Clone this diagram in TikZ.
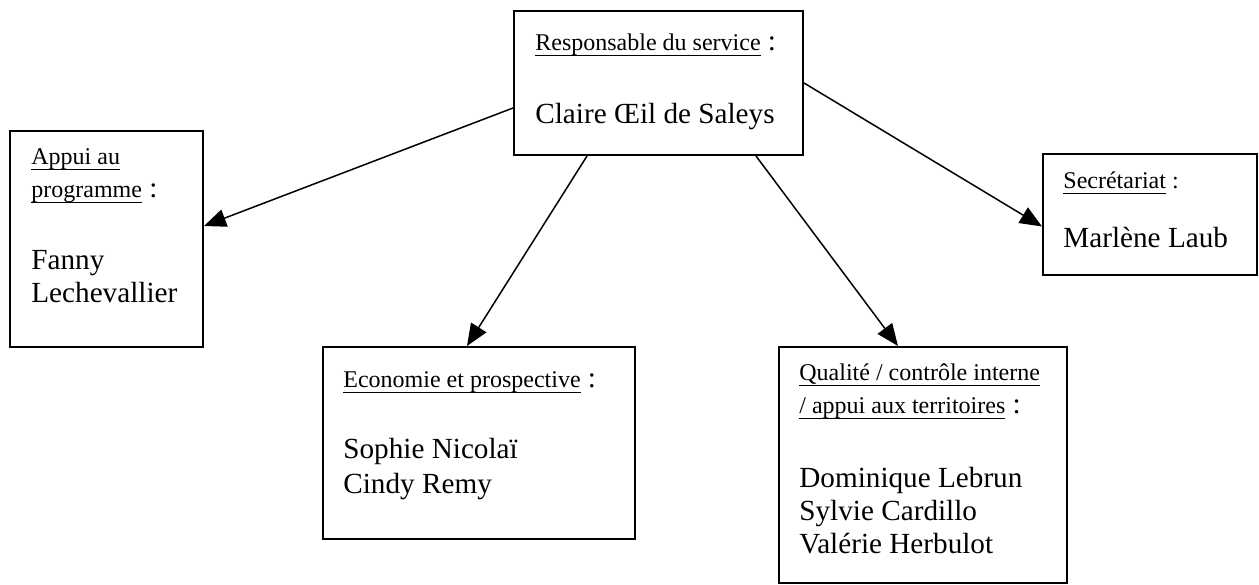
\documentclass[tikz,border=0pt]{standalone}
\usepackage{fontspec}
\setmainfont{Liberation Serif}
\usetikzlibrary{arrows.meta, fit}

% Soulignement a la Word (trait fixe sous la ligne de base)
\newcommand\souligne[1]{\setbox0\hbox{#1}\rlap{\rule[-2.8pt]{\wd0}{0.55pt}}\box0}
\newcommand\deuxpts{{\fontsize{14.6}{16.5}\selectfont\ :}}

\begin{document}
\begin{tikzpicture}[
    x=0.5pt, y=-0.5pt, % une unite = un pixel de l'original
    >={Triangle[length=11pt, width=9pt]},
    % --- Boites ---
    boite/.style={draw, line width=1pt, inner sep=0pt},
    % --- Textes (ancre = ligne de base de la derniere ligne) ---
    titre/.style={anchor=base west, inner sep=0pt, align=left, font=\fontsize{12}{16.5}\selectfont},
    nom/.style={anchor=base west, inner sep=0pt, align=left, font=\fontsize{14.6}{16.5}\selectfont},
    % --- Fleches ---
    fleche/.style={->, line width=0.75pt}
]
    \useasboundingbox (0,0) rectangle (1259,584);

    % ===========================
    % 1. BOITES
    % ===========================
    \node[boite, fit={(514,11) (803,155)}]   (chef)  {};
    \node[boite, fit={(10,131) (203,347)}]   (appui) {};
    \node[boite, fit={(1043,154) (1257,275)}] (secr)  {};
    \node[boite, fit={(323,347) (635,539)}]  (eco)   {};
    \node[boite, fit={(779,347) (1067,583)}] (qual)  {};

    % ===========================
    % 2. TEXTES
    % ===========================
    \node[titre] (chefT)  at (535,50)   {\souligne{Responsable du service}\deuxpts};
    \node[nom]   (chefN)  at (535,123)  {Claire Œil de Saleys};

    \node[titre] (appuiT) at (31,197)   {\souligne{Appui au}\\\souligne{programme}\deuxpts};
    \node[nom]   (appuiN) at (31,302)   {Fanny\\Lechevallier};

    \node[titre] (secrT)  at (1063,188) {\souligne{Secrétariat}\ :};
    \node[nom]   (secrN)  at (1063,247) {Marlène Laub};

    \node[titre] (ecoT)   at (343,387)  {\souligne{Economie et prospective}\deuxpts};
    \node[nom, font=\fontsize{14.6}{17.5}\selectfont] (ecoN) at (343,493) {Sophie Nicolaï\\Cindy Remy};

    \node[titre] (qualT)  at (799,413)  {\souligne{Qualité / contrôle interne}\\\souligne{/ appui aux territoires}\deuxpts};
    \node[nom]   (qualN)  at (799,553)  {Dominique Lebrun\\Sylvie Cardillo\\Valérie Herbulot};

    % ===========================
    % 3. FLECHES
    % ===========================
    \draw[fleche] ([yshift=-12.5pt]chef.west) -- ([yshift=6.5pt]appui.east);
    \draw[fleche] ([xshift=-35.75pt]chef.south) -- ([xshift=-6pt]eco.north);
    \draw[fleche] ([xshift=48.75pt]chef.south) -- ([xshift=-12.5pt]qual.north);
    \draw[fleche] (chef.east) -- ([yshift=-6pt]secr.west);

\end{tikzpicture}
\end{document}
